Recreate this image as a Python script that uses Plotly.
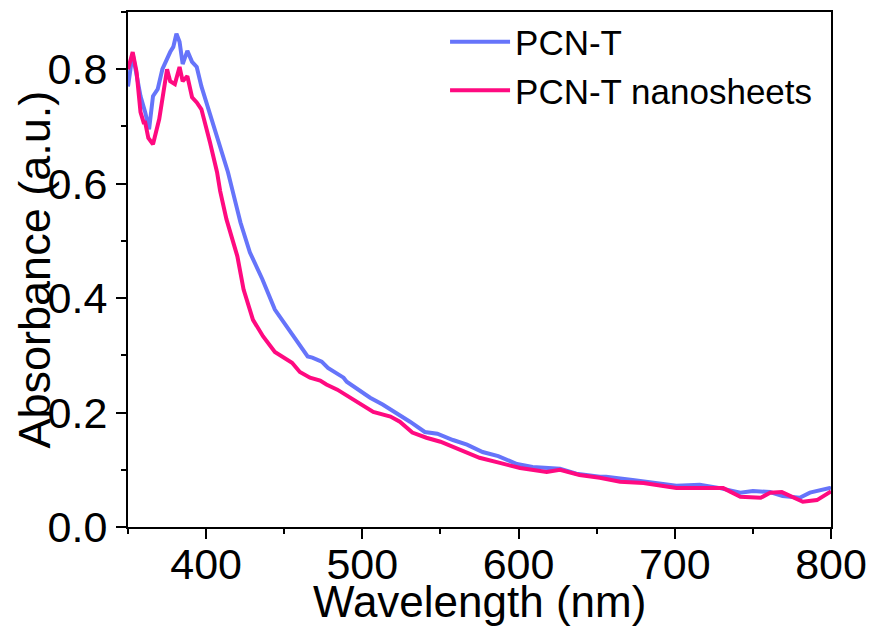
import plotly.graph_objects as go

# PCN-T (blue)
wl_pcn = [350, 353, 358, 361, 363.5, 366, 369, 372, 377, 379, 381, 383, 385, 388, 391, 394, 397, 401, 407,
          409, 414, 417, 422, 428, 436, 444, 454, 460, 465, 468, 474, 478, 488, 490, 497, 505, 513, 524, 530.5,
          540, 548, 558, 567, 577, 587, 599, 609, 626.5, 637, 652, 656, 673, 683, 701, 716, 729, 742, 750, 761,
          769, 780, 786.5, 799, 800]
ab_pcn = [0.77, 0.827, 0.753, 0.725, 0.695, 0.753, 0.765, 0.80, 0.83, 0.839, 0.862, 0.848, 0.809, 0.832, 0.813,
          0.804, 0.77, 0.736, 0.683, 0.665, 0.62, 0.587, 0.532, 0.48, 0.433, 0.38, 0.34, 0.315, 0.298, 0.296,
          0.289, 0.278, 0.261, 0.254, 0.24, 0.226, 0.214, 0.196, 0.184, 0.166, 0.163, 0.152, 0.144, 0.131, 0.124,
          0.11, 0.105, 0.102, 0.093, 0.088, 0.088, 0.082, 0.079, 0.072, 0.074, 0.068, 0.06, 0.063, 0.061, 0.054,
          0.051, 0.06, 0.068, 0.067]

# PCN-T nanosheets (pink)
wl_ns = [350, 353, 355.5, 358, 360, 361, 363, 366, 370, 372, 375, 377, 380, 383, 385, 388, 391, 394, 397, 402.5,
         407, 409, 413, 420, 424, 430, 436.5, 444, 455, 460, 466.5, 473, 477, 484, 495, 507, 518, 524, 532, 541,
         550, 560, 575, 588, 601, 618, 626.5, 639, 652, 665, 680, 701, 716, 731, 742, 755, 761, 768.5, 782, 791,
         800]
ab_ns = [0.80, 0.83, 0.795, 0.725, 0.707, 0.707, 0.68, 0.669, 0.713, 0.748, 0.80, 0.779, 0.774, 0.804, 0.779,
         0.788, 0.751, 0.742, 0.73, 0.672, 0.62, 0.587, 0.538, 0.473, 0.415, 0.362, 0.333, 0.306, 0.287, 0.271,
         0.261, 0.256, 0.249, 0.24, 0.222, 0.201, 0.193, 0.184, 0.165, 0.156, 0.149, 0.138, 0.121, 0.112, 0.103,
         0.096, 0.1, 0.091, 0.086, 0.079, 0.077, 0.068, 0.068, 0.068, 0.053, 0.051, 0.06, 0.061, 0.044, 0.047,
         0.062]

names = ["PCN-T", "PCN-T nanosheets"]
colors = ["#6674FA", "#FF0A80"]
x_ticks = [400, 500, 600, 700, 800]
y_ticks = [0.0, 0.2, 0.4, 0.6, 0.8]
x_title = "Wavelength (nm)"
y_title = "Absorbance (a.u.)"

FONT = "Liberation Sans, Arial, sans-serif"

fig = go.Figure()
fig.add_trace(go.Scatter(x=wl_pcn, y=ab_pcn, mode="lines", name=names[0],
                         line=dict(color=colors[0], width=4)))
fig.add_trace(go.Scatter(x=wl_ns, y=ab_ns, mode="lines", name=names[1],
                         line=dict(color=colors[1], width=4)))

axis_common = dict(showline=True, linecolor="black", linewidth=2, mirror=True,
                   ticks="outside", ticklen=10, tickwidth=2, tickcolor="black",
                   showgrid=False, zeroline=False,
                   tickfont=dict(family=FONT, size=43, color="black"))

fig.update_xaxes(range=[350, 800], tickvals=x_ticks, ticklabelstandoff=-12,
                 minor=dict(ticks="outside", ticklen=5, tickwidth=2, tickcolor="black", dtick=50, tick0=350),
                 **axis_common)
fig.update_yaxes(range=[0, 0.9], tickvals=y_ticks, tickformat=".1f",
                 minor=dict(ticks="outside", ticklen=5, tickwidth=2, tickcolor="black", dtick=0.1, tick0=0),
                 **axis_common)

fig.add_annotation(text=x_title, xref="paper", yref="paper", x=0.5, y=-0.1437,
                   xanchor="center", yanchor="middle", showarrow=False,
                   font=dict(family=FONT, size=44, color="black"))
fig.add_annotation(text=y_title, xref="paper", yref="paper", x=-0.1323, y=0.5,
                   xanchor="center", yanchor="middle", showarrow=False, textangle=-90,
                   font=dict(family=FONT, size=45, color="black"))

fig.update_layout(
    width=867, height=622,
    margin=dict(l=120, r=44, t=4, b=103, autoexpand=False),
    paper_bgcolor="white", plot_bgcolor="white",
    showlegend=True,
    legend=dict(x=0.451, y=0.999, xanchor="left", yanchor="top",
                font=dict(family=FONT, size=35, color="black"),
                bgcolor="rgba(0,0,0,0)", itemwidth=60, tracegroupgap=0),
)

fig.write_html("out.html")
